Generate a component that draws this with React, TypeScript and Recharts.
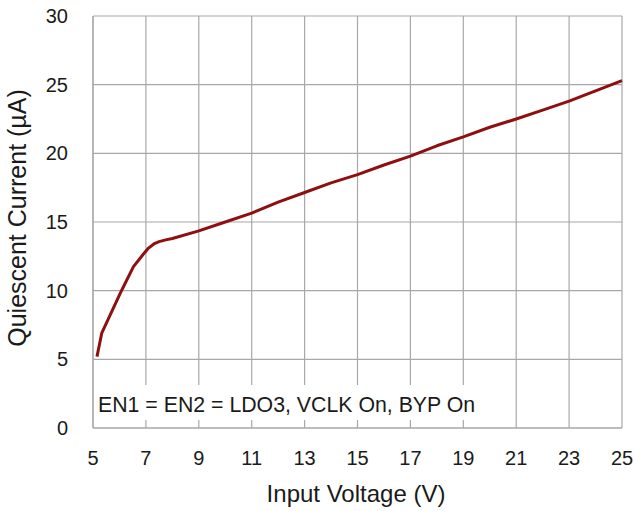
import { LineChart, Line, XAxis, YAxis, CartesianGrid } from "recharts";

// Input voltage (V) and quiescent current (µA)
const voltage = [
  5.15, 5.33, 6.09, 6.53, 6.9, 7.1, 7.3, 7.5, 7.75, 8, 9, 10, 11, 12, 13, 14,
  15, 16, 17, 18, 19, 20, 21, 22, 23, 24, 25,
];
const current = [
  5.2, 6.9, 10.05, 11.75, 12.65, 13.1, 13.4, 13.57, 13.7, 13.8, 14.35, 15.0,
  15.65, 16.45, 17.15, 17.85, 18.45, 19.15, 19.8, 20.55, 21.2, 21.9, 22.5, 23.15,
  23.8, 24.55, 25.3,
];
const xTicks = [5, 7, 9, 11, 13, 15, 17, 19, 21, 23, 25];
const yTicks = [0, 5, 10, 15, 20, 25, 30];
const note = "EN1 = EN2 = LDO3, VCLK On, BYP On";

const data = voltage.map((v, i) => ({ v, iq: current[i] }));

const GRID = "#a8a8a8";
const FONT = "'Liberation Sans', Arial, sans-serif";

export default function App() {
  return (
    <div style={{ position: "absolute", left: 0, top: 0, fontFamily: FONT }}>
      <LineChart
        width={635}
        height={511}
        data={data}
        margin={{ top: 16, right: 13, bottom: 43, left: 53 }}
      >
        <CartesianGrid stroke={GRID} strokeWidth={1.2} />
        <XAxis
          type="number"
          dataKey="v"
          domain={[5, 25]}
          ticks={xTicks}
          height={40}
          tickSize={0}
          tickMargin={23}
          axisLine={{ stroke: GRID, strokeWidth: 1.2 }}
          tick={{ fontSize: 20, fill: "#1a1a1a", fontFamily: FONT }}
        />
        <YAxis
          type="number"
          domain={[0, 30]}
          ticks={yTicks}
          width={40}
          tickSize={0}
          tickMargin={25}
          axisLine={{ stroke: GRID, strokeWidth: 1.2 }}
          tick={{ fontSize: 20, fill: "#1a1a1a", fontFamily: FONT }}
        />
        <g>
          <rect x={95} y={385} width={395} height={35} fill="#fff" />
          <text x={98} y={412} fontSize={21.3} fill="#1a1a1a" fontFamily={FONT}>
            {note}
          </text>
          <text
            x={356}
            y={502}
            fontSize={24}
            textAnchor="middle"
            fill="#1a1a1a"
            fontFamily={FONT}
          >
            Input Voltage (V)
          </text>
          <text
            x={26}
            y={218}
            fontSize={25}
            textAnchor="middle"
            fill="#1a1a1a"
            fontFamily={FONT}
            transform="rotate(-90, 26, 218)"
          >
            Quiescent Current (µA)
          </text>
        </g>
        <Line
          type="linear"
          dataKey="iq"
          stroke="#8e0f0f"
          strokeWidth={3}
          strokeLinejoin="round"
          dot={false}
          isAnimationActive={false}
        />
      </LineChart>
    </div>
  );
}
